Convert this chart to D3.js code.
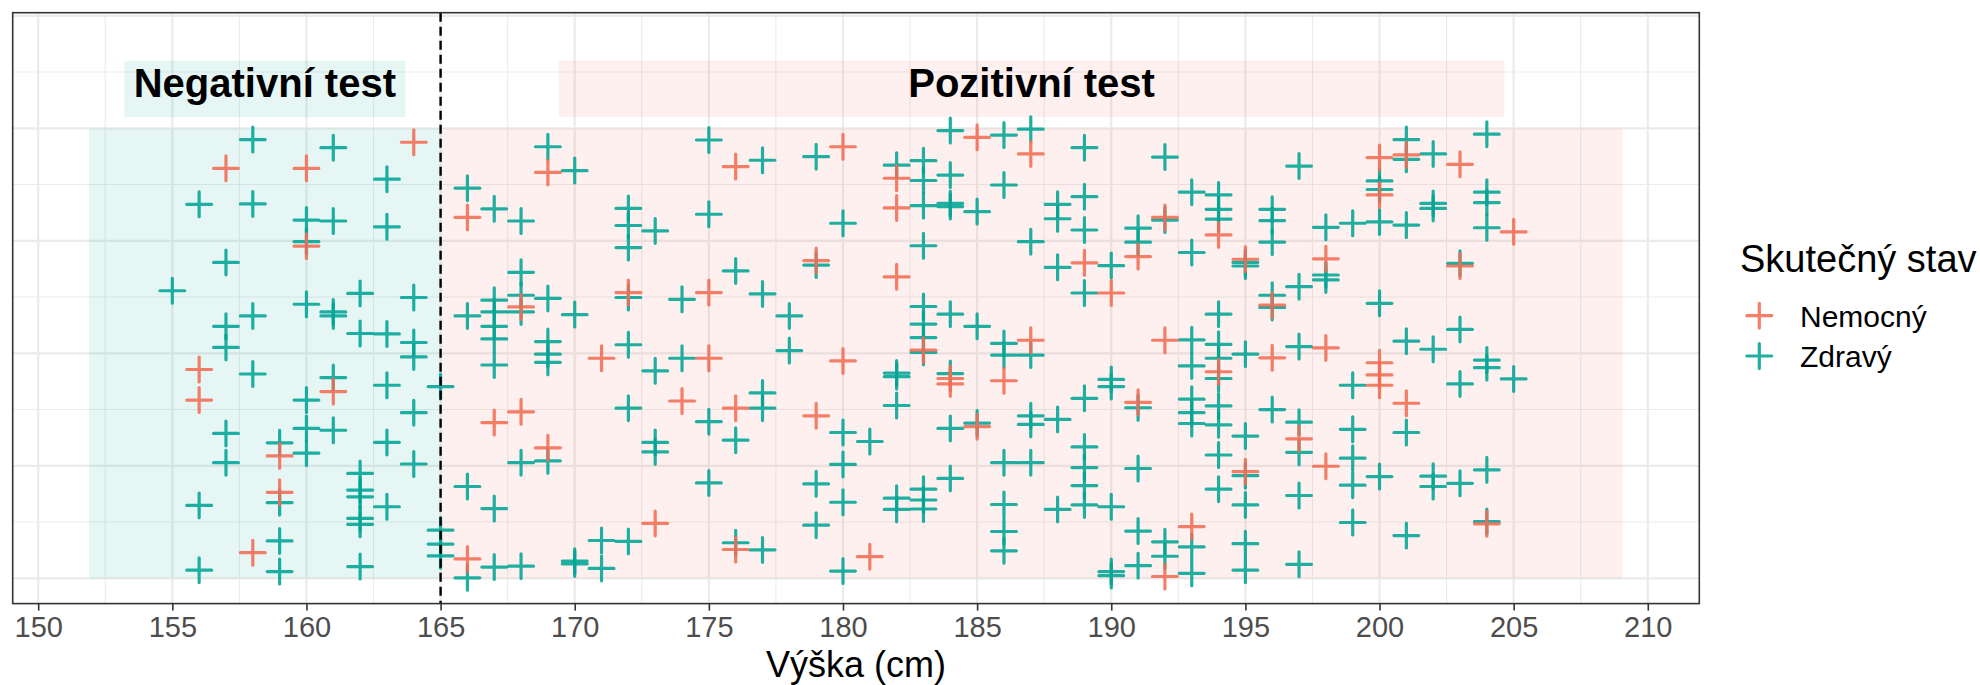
<!DOCTYPE html>
<html><head><meta charset="utf-8">
<script src="https://cdn.jsdelivr.net/npm/d3@7"></script>
<style>
body{margin:0;background:#fff}
text{font-family:"Liberation Sans",Arial,Helvetica,sans-serif}
</style>
</head><body>
<svg id="c" width="1980" height="685"></svg>
<script>
// ---------- data ----------
const xTicks = [150,155,160,165,170,175,180,185,190,195,200,205,210];
const cutoff = 165;
const seriesNames = ["Nemocný", "Zdravý"];
const regionLabels = ["Negativní test", "Pozitivní test"];
const regionExtent = [151.9, 209.06];

const zdravyVyska = [
155,
156,156,156,
157,157,157,157,157,
158,158,158,158,
159,159,159,159,
160,160,160,160,160,160,
161,161,161,161,161,161,
162,162,162,162,162,162,162,162,
163,163,163,163,163,163,
164,164,164,164,164,
165,165,165,165,
166,166,166,166,
167,167,167,167,167,167,167,167,
168,168,168,168,168,168,
169,169,169,169,169,169,
170,170,170,170,
171,171,
172,172,172,172,172,172,172,
173,173,173,173,
174,174,
175,175,175,175,
176,176,176,
177,177,177,177,177,
178,178,
179,179,179,179,
180,180,180,180,180,
181,
182,182,182,182,182,182,
183,183,183,183,183,183,183,183,183,183,183,
184,184,184,184,184,184,184,184,
185,185,185,
186,186,186,186,186,186,186,186,
187,187,187,187,187,187,
188,188,188,188,188,
189,189,189,189,189,189,189,189,189,
190,190,190,190,190,190,
191,191,191,191,191,191,
192,192,192,192,
193,193,193,193,193,193,193,193,193,
194,194,194,194,194,194,194,194,194,194,194,
195,195,195,195,195,195,195,195,
196,196,196,196,196,196,
197,197,197,197,197,197,197,
198,198,198,
199,199,199,199,199,199,
200,200,200,200,200,
201,201,201,201,201,201,
202,202,202,202,202,202,
203,203,203,203,
204,204,204,204,204,204,204,204,
205
];
const zdravyY = [
0.639,
0.831,0.162,0.018,
0.702,0.560,0.513,0.322,0.257,
0.975,0.832,0.583,0.454,
0.301,0.168,0.083,0.015,
0.796,0.748,0.609,0.396,0.333,0.278,
0.957,0.794,0.592,0.583,0.446,0.329,
0.633,0.544,0.233,0.196,0.181,0.133,0.120,0.026,
0.887,0.781,0.543,0.429,0.302,0.159,
0.624,0.524,0.492,0.368,0.254,
0.426,0.107,0.076,0.050,
0.867,0.583,0.204,0.001,
0.821,0.618,0.592,0.560,0.532,0.474,0.155,0.025,
0.794,0.680,0.629,0.592,0.257,0.027,
0.959,0.622,0.526,0.498,0.480,0.261,
0.906,0.586,0.038,0.032,
0.084,0.022,
0.822,0.784,0.735,0.624,0.519,0.378,0.082,
0.772,0.461,0.302,0.281,
0.620,0.489,
0.974,0.809,0.348,0.212,
0.683,0.307,0.079,
0.929,0.632,0.412,0.378,0.063,
0.583,0.506,
0.937,0.696,0.210,0.118,
0.789,0.324,0.253,0.169,0.016,
0.304,
0.918,0.456,0.448,0.384,0.178,0.153,
0.928,0.884,0.828,0.739,0.604,0.565,0.535,0.502,0.198,0.174,0.154,
0.995,0.896,0.833,0.826,0.587,0.455,0.333,0.222,
0.815,0.560,0.345,
0.985,0.874,0.522,0.496,0.257,0.164,0.104,0.061,
0.998,0.748,0.496,0.361,0.342,0.257,
0.831,0.799,0.691,0.353,0.153,
0.957,0.848,0.774,0.634,0.400,0.292,0.246,0.206,0.163,
0.695,0.442,0.426,0.159,0.015,0.006,
0.778,0.747,0.379,0.244,0.105,0.028,
0.936,0.796,0.081,0.049,
0.858,0.724,0.530,0.472,0.398,0.368,0.344,0.070,0.011,
0.852,0.820,0.798,0.587,0.520,0.489,0.444,0.383,0.341,0.274,0.198,
0.702,0.694,0.498,0.316,0.228,0.163,0.077,0.018,
0.820,0.795,0.747,0.629,0.602,0.375,
0.916,0.648,0.515,0.347,0.280,0.184,0.031,
0.780,0.674,0.663,
0.789,0.429,0.331,0.267,0.207,0.124,
0.883,0.864,0.792,0.611,0.226,
0.975,0.931,0.785,0.527,0.324,0.095,
0.943,0.833,0.822,0.509,0.227,0.204,
0.700,0.553,0.432,0.211,
0.987,0.858,0.835,0.779,0.485,0.468,0.241,0.126,
0.443
];

const nemocnyVyska = [
156,156, 157, 158, 159,159, 160,160, 161, 164,
166,166, 167, 168,168, 169,169, 171, 172, 173, 174,
175,175, 176,176,176, 179,179, 180,180, 181,
182,182,182, 183, 184,184, 185,185, 186, 187,187,
189, 190, 191,191, 192,192,192, 193, 194,194, 195,195,
196,196, 197, 198,198,198, 200,200,200,200,200,
201,201, 203,203, 204, 205
];
const nemocnyY = [
0.464,0.396, 0.911, 0.057, 0.272,0.191, 0.911,0.738, 0.415, 0.969,
0.802,0.043, 0.346, 0.603,0.370, 0.902,0.290, 0.489, 0.635, 0.122, 0.394,
0.635,0.489, 0.915,0.378,0.064, 0.706,0.361, 0.959,0.483, 0.048,
0.889,0.823,0.670, 0.507, 0.444,0.432, 0.980,0.337, 0.439, 0.943,0.529,
0.701, 0.634, 0.715,0.391, 0.802,0.529,0.004, 0.115, 0.763,0.459, 0.709,0.237,
0.607,0.490, 0.310, 0.710,0.512,0.249, 0.935,0.852,0.479,0.452,0.429,
0.941,0.389, 0.920,0.694, 0.121, 0.770
];

// ---------- styles ----------
const colNemocny = "#F36C54";
const colZdravy = "#00A494";
const svg = d3.select("#c");
const P = {l:12.7, r:1699.3, t:12.7, b:603.6};

const x = d3.scaleLinear().domain([149.05, 211.92]).range([P.l, P.r]);
const y = d3.scaleLinear().domain([-0.0562, 1.2569]).range([P.b, P.t]);

// grid
const g = svg.append("g");
const xMinor = d3.range(152.5, 210, 5);
const yMajor = d3.range(0, 1.26, 0.25);
const yMinor = d3.range(0.125, 1.2, 0.25);
g.selectAll(".xmn").data(xMinor).join("line")
  .attr("x1", d=>x(d)).attr("x2", d=>x(d)).attr("y1", P.t).attr("y2", P.b)
  .attr("stroke", "#EBEBEB").attr("stroke-width", 1.1);
g.selectAll(".ymn").data(yMinor).join("line")
  .attr("y1", d=>y(d)).attr("y2", d=>y(d)).attr("x1", P.l).attr("x2", P.r)
  .attr("stroke", "#EBEBEB").attr("stroke-width", 1.1);
g.selectAll(".xmj").data(xTicks).join("line")
  .attr("x1", d=>x(d)).attr("x2", d=>x(d)).attr("y1", P.t).attr("y2", P.b)
  .attr("stroke", "#EBEBEB").attr("stroke-width", 2.2);
g.selectAll(".ymj").data(yMajor).join("line")
  .attr("y1", d=>y(d)).attr("y2", d=>y(d)).attr("x1", P.l).attr("x2", P.r)
  .attr("stroke", "#EBEBEB").attr("stroke-width", 2.2);

// region rects
const regions = [
  {x0: regionExtent[0], x1: cutoff, col: colZdravy, label: regionLabels[0]},
  {x0: cutoff, x1: regionExtent[1], col: colNemocny, label: regionLabels[1]}
];
svg.append("g").selectAll("rect").data(regions).join("rect")
  .attr("x", d=>x(d.x0)).attr("width", d=>x(d.x1)-x(d.x0))
  .attr("y", y(1)).attr("height", y(0)-y(1))
  .attr("fill", d=>d.col).attr("fill-opacity", 0.1);
// label boxes
svg.append("g").selectAll("rect").data(regions).join("rect")
  .attr("x", d=>x(d.x0+(d.x1-d.x0)*0.1))
  .attr("width", d=>x(d.x1-(d.x1-d.x0)*0.1)-x(d.x0+(d.x1-d.x0)*0.1))
  .attr("y", y(1.15)).attr("height", y(1.025)-y(1.15))
  .attr("fill", d=>d.col).attr("fill-opacity", 0.1);
svg.append("g").selectAll("text").data(regions).join("text")
  .attr("x", d=>x((d.x0+d.x1)/2)).attr("y", y(1.0875)).attr("dy", "0.2em")
  .attr("text-anchor", "middle").attr("font-weight", "bold")
  .attr("font-size", 40).attr("fill", "#000").text(d=>d.label);

// points
const cross = "M-12.4,0H12.4M0,-12.4V12.4";
function drawPts(xs, ys, col){
  svg.append("g").selectAll("path").data(xs.map((v,i)=>[v, ys[i]])).join("path")
    .attr("d", cross)
    .attr("transform", d=>`translate(${x(d[0])},${y(d[1])})`)
    .attr("stroke", col).attr("stroke-width", 3.2).attr("stroke-linecap", "round")
    .attr("fill", "none").attr("stroke-opacity", 0.88);
}
drawPts(zdravyVyska, zdravyY, colZdravy);
drawPts(nemocnyVyska, nemocnyY, colNemocny);

// cutoff line
svg.append("line").attr("x1", x(cutoff)).attr("x2", x(cutoff))
  .attr("y1", P.t).attr("y2", P.b)
  .attr("stroke", "#000").attr("stroke-width", 2.4).attr("stroke-dasharray", "9,5");

// panel border
svg.append("rect").attr("x", P.l).attr("y", P.t).attr("width", P.r-P.l).attr("height", P.b-P.t)
  .attr("fill", "none").attr("stroke", "#333333").attr("stroke-width", 1.6);

// x axis
const ax = svg.append("g").attr("transform", `translate(0,${P.b})`)
  .call(d3.axisBottom(x).tickValues(xTicks).tickSize(7).tickPadding(6));
ax.select(".domain").remove();
ax.selectAll(".tick line").attr("stroke", "#333333").attr("stroke-width", 1.6);
ax.selectAll(".tick text").attr("fill", "#4D4D4D").attr("font-size", 29)
  .attr("font-family", "'Liberation Sans',Arial,sans-serif");

svg.append("text").attr("x", (P.l+P.r)/2).attr("y", 677).attr("text-anchor", "middle")
  .attr("font-size", 36).attr("fill", "#000").text("Výška (cm)");

// legend
const lg = svg.append("g");
lg.append("text").attr("x", 1740).attr("y", 271.7).attr("font-size", 38).attr("fill", "#000").text("Skutečný stav");
const legItems = [{n: seriesNames[0], c: colNemocny}, {n: seriesNames[1], c: colZdravy}];
legItems.forEach((d,i)=>{
  const cy = 315.7 + i*40.3;
  lg.append("path").attr("d", cross).attr("transform", `translate(1759.3,${cy})`)
    .attr("stroke", d.c).attr("stroke-width", 3.2).attr("stroke-linecap", "round")
    .attr("fill", "none").attr("stroke-opacity", 0.88);
  lg.append("text").attr("x", 1800).attr("y", cy + 11.2).attr("font-size", 30)
    .attr("fill", "#000").text(d.n);
});
</script>
</body></html>
